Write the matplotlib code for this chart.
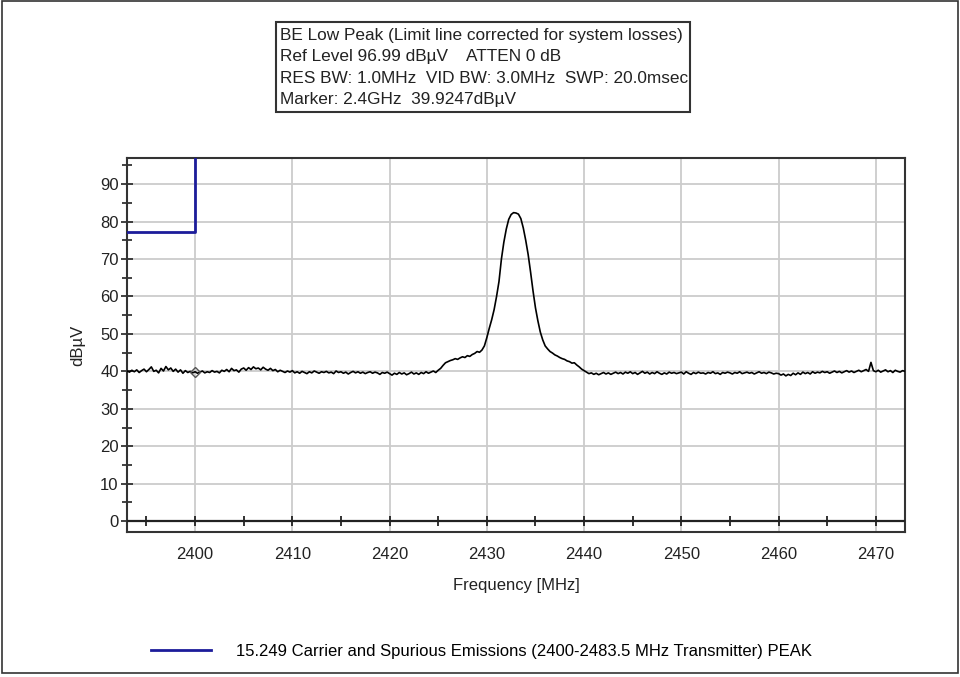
import numpy as np
import matplotlib
matplotlib.use("Agg")
import matplotlib.pyplot as plt
from matplotlib.patches import Rectangle
from matplotlib.lines import Line2D

plt.rcParams['font.family'] = ['Liberation Sans', 'DejaVu Sans']

# header box text
info_lines = [
    "BE Low Peak (Limit line corrected for system losses)",
    "Ref Level 96.99 dB\u00b5V    ATTEN 0 dB",
    "RES BW: 1.0MHz  VID BW: 3.0MHz  SWP: 20.0msec",
    "Marker: 2.4GHz  39.9247dB\u00b5V",
]
legend_label = "15.249 Carrier and Spurious Emissions (2400-2483.5 MHz Transmitter) PEAK"

# measured trace, 2393 .. 2473 MHz, 0.25 MHz steps
trace_start, trace_stop = 2393.0, 2473.0
trace_level = [
    # 2393.00 - 2399.75
    40.1, 39.8, 40.3, 39.9, 40.4, 39.7, 40.2, 40.6, 39.9, 40.5, 41.2, 40.0, 40.3, 39.6,
    40.8, 40.1, 41.3, 40.4, 40.9, 40.0, 40.6, 39.8, 40.4, 39.5, 40.2, 39.7, 40.0, 39.6,
    # 2400.00 - 2409.75
    39.9, 39.5, 39.8, 40.1, 39.6, 39.9, 39.7, 40.2, 39.8, 40.0, 39.6, 40.3, 40.0, 40.5,
    39.9, 40.8, 40.2, 40.4, 39.8, 40.6, 40.9, 40.3, 41.0, 40.5, 41.2, 40.7, 40.9, 40.4,
    41.1, 40.6, 40.3, 40.8, 40.2, 40.5, 39.9, 40.3, 40.0, 39.7, 40.1, 39.8,
    # 2410.00 - 2419.75
    40.2, 39.6, 39.9, 39.5, 40.0, 39.7, 39.4, 39.9, 39.6, 40.1, 39.8, 39.5, 39.9, 39.7,
    40.0, 39.6, 39.8, 39.4, 40.1, 39.7, 39.9, 39.5, 39.8, 39.3, 39.7, 40.0, 39.6, 39.9,
    39.5, 39.8, 39.4, 39.7, 39.9, 39.5, 39.8, 39.6, 39.2, 39.7, 39.5, 39.8,
    # 2420.00 - 2424.75
    39.4, 39.0, 39.5, 39.2, 39.7, 39.3, 39.6, 39.1, 39.4, 39.8, 39.3, 39.6, 39.2, 39.7,
    39.4, 39.9, 39.5, 39.8, 40.1, 39.7,
    # 2425.00 - 2429.75
    40.3, 40.8, 41.6, 42.3, 42.6, 42.9, 43.1, 43.4, 43.2, 43.6, 43.9, 43.7, 44.2, 44.0,
    44.5, 44.8, 45.3, 45.1, 45.7, 46.8,
    # 2430.00 - 2432.75
    49.0, 51.5, 53.8, 56.5, 60.0, 64.0, 70.0, 74.5, 78.0, 80.6, 81.9, 82.4,
    # 2433.00 - 2439.75
    82.3, 82.0, 80.8, 78.3, 75.0, 71.2, 66.5, 61.5, 57.0, 53.5, 50.5, 48.4, 46.8, 46.0,
    45.3, 44.9, 44.4, 44.1, 43.7, 43.4, 43.2, 42.8, 42.6, 42.2, 42.3, 41.7, 41.2, 40.6,
    # 2440.00 - 2449.75
    40.2, 39.8, 39.4, 39.6, 39.2, 39.5, 39.1, 39.4, 39.7, 39.3, 39.6, 39.2, 39.5, 39.8,
    39.4, 39.7, 39.3, 39.8, 39.5, 39.9, 39.4, 39.7, 39.2, 39.6, 40.0, 39.5, 39.8, 39.3,
    39.7, 39.4, 39.9, 39.5, 39.2, 39.6, 39.3, 39.8, 39.5, 39.7, 39.4, 39.6,
    # 2450.00 - 2459.75
    39.8, 39.3, 39.9, 39.5, 39.2, 39.7, 39.4, 39.8, 39.5, 39.6, 39.3, 39.7, 39.5, 39.9,
    39.4, 39.6, 39.2, 39.7, 39.5, 39.8, 39.6, 39.3, 39.7, 39.5, 39.9, 39.4, 39.6, 39.8,
    39.5, 39.7, 39.3, 39.6, 39.9, 39.5, 39.7, 39.4, 39.8, 39.6, 39.3, 39.5,
    # 2460.00 - 2469.75
    39.4, 39.0, 39.3, 38.8, 39.2, 38.9, 39.5, 39.1, 39.6, 39.2, 39.8, 39.4, 39.7, 39.3,
    39.9, 39.5, 39.8, 39.6, 40.0, 39.7, 39.9, 39.5, 39.8, 40.1, 39.7, 40.0, 39.6, 39.9,
    40.2, 39.8, 40.1, 39.7, 40.0, 40.3, 39.9, 40.2, 40.5, 40.0, 42.4, 40.2,
    # 2470.00 - 2473.00
    39.9, 40.3, 39.8, 40.1, 40.4, 39.9, 40.2, 39.7, 40.3, 40.0, 39.8, 40.2, 40.0,
]
trace_freq = np.linspace(trace_start, trace_stop, len(trace_level))

# limit line (blue)
limit_freq = [2393.0, 2400.0, 2400.0]
limit_level = [77.3, 77.3, 97.0]

marker_freq = 2400.0
marker_level = 39.9247

xlim = (2393.0, 2473.0)
ylim = (-2.9, 96.99)
xticks = list(range(2400, 2471, 10))
xminor = list(range(2395, 2471, 5))
yticks = list(range(0, 91, 10))
yminor = list(range(5, 96, 5))

fs = 12

fig = plt.figure(figsize=(9.6, 6.77), dpi=100)
ax = fig.add_axes([0.1323, 0.2142, 0.8104, 0.5524])

ax.grid(True, color='#cccccc', lw=1.3)
ax.set_axisbelow(True)
ax.plot(limit_freq, limit_level, color='#1c1c9a', lw=2.0, zorder=3)
ax.plot(trace_freq, trace_level, color='black', lw=1.2, zorder=4)
ax.plot([marker_freq], [marker_level], marker='D', ms=5, mfc='none', mec='#555555', mew=1.0, zorder=5)

# zero line with tick crossings
ax.axhline(0, color='#222222', lw=1.6, zorder=3)
ax.plot(xminor, [0] * len(xminor), ls='none', marker='|', ms=7, mew=1.3, color='#222222', zorder=3)

ax.set_xlim(*xlim)
ax.set_ylim(*ylim)
ax.set_xticks(xticks)
ax.set_yticks(yticks)
ax.set_yticks(yminor, minor=True)
ax.tick_params(axis='x', length=0, pad=11, labelsize=fs, colors='#222222')
ax.tick_params(axis='y', which='major', direction='inout', length=8, width=1.2, pad=2,
               labelsize=fs, colors='#222222')
ax.tick_params(axis='y', which='minor', direction='inout', length=7, width=1.2, colors='#222222')
for s in ax.spines.values():
    s.set_color('#333333')
    s.set_linewidth(1.5)

ax.set_xlabel("Frequency [MHz]", fontsize=fs, color='#222222', labelpad=11)
ax.set_ylabel("dB\u00b5V", fontsize=fs, color='#222222', labelpad=11)

# header box
fig.patches.append(Rectangle((0.2875, 0.8346), 0.431, 0.1329, transform=fig.transFigure,
                             fill=False, ec='#333333', lw=1.5))
for i, line in enumerate(info_lines):
    fig.text(0.2917, 0.948 - i * 0.0318, line, fontsize=12.4, color='#222222', va='center', ha='left')

# legend
handle = Line2D([], [], color='#1c1c9a', lw=2.0)
fig.legend([handle], [legend_label], loc='center', bbox_to_anchor=(0.5016, 0.0384),
           frameon=False, fontsize=fs, handlelength=3.6, handletextpad=1.5)

# outer border
fig.patches.append(Rectangle((0.002, 0.006), 0.996, 0.992, transform=fig.transFigure,
                             fill=False, ec='#333333', lw=1.2))

fig.savefig("out.png", dpi=100)
